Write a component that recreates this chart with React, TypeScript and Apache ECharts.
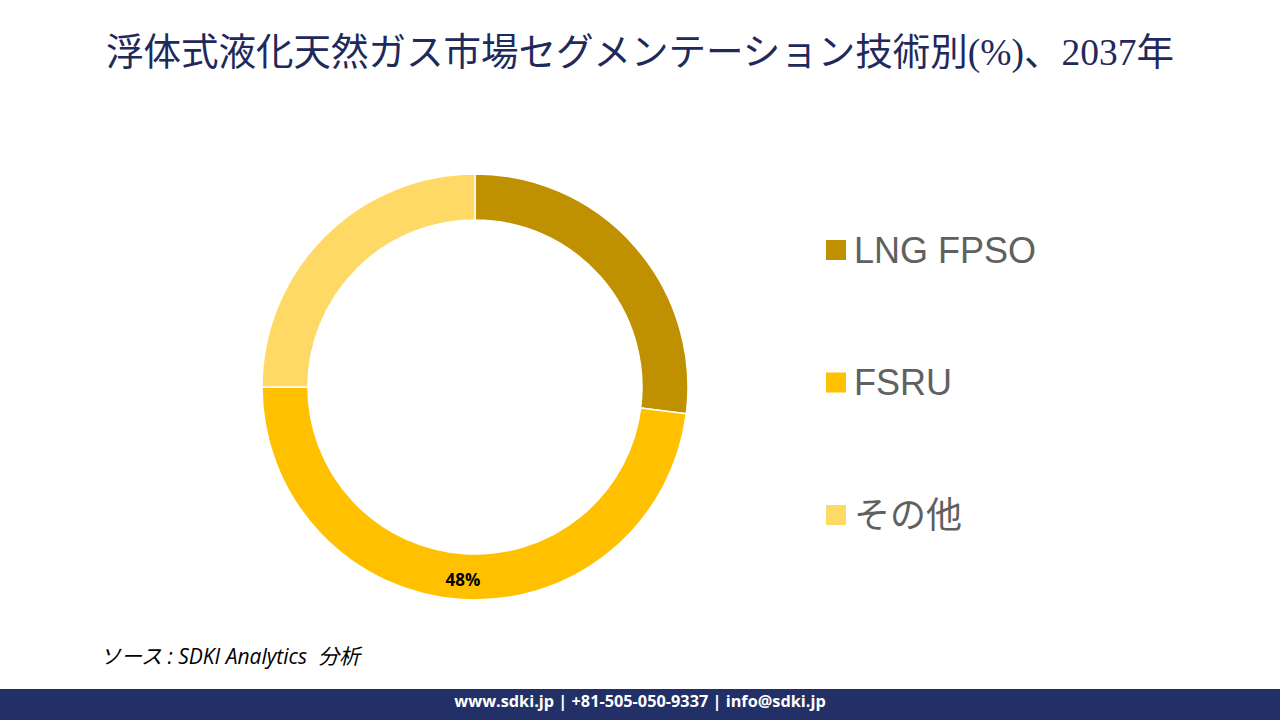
import React, { useEffect, useRef } from "react";
import * as echarts from "echarts";

const titleText = "浮体式液化天然ガス市場セグメンテーション技術別(%)、2037年";
const categories = ["LNG FPSO", "FSRU", "その他"];
const values = [27, 48, 25];
const colors = ["#BF9000", "#FFC000", "#FFD966"];
const labelled = ["FSRU"];
const sourceText = "ソース : SDKI Analytics  分析";
const footerText = "www.sdki.jp | +81-505-050-9337 | info@sdki.jp";

export default function App() {
  const ref = useRef<HTMLDivElement>(null);
  useEffect(() => {
    document.body.style.margin = "0";
    const chart = echarts.init(ref.current!, undefined, { renderer: "svg" });
    const data = categories.map((name, i) => ({
      name,
      value: values[i],
      itemStyle: { color: colors[i] },
      label: { show: labelled.includes(name) },
    }));
    chart.setOption({
      animation: false,
      backgroundColor: "#ffffff",
      title: {
        text: titleText,
        left: "center",
        top: 29,
        textStyle: {
          fontFamily: "'Liberation Serif', 'Noto Sans CJK JP', serif",
          fontSize: 37.5,
          fontWeight: "normal",
          color: "#1F2A5C",
        },
      },
      legend: {
        orient: "vertical",
        left: 824,
        top: 232,
        padding: 0,
        icon: "rect",
        itemWidth: 22,
        itemHeight: 22,
        itemGap: 96.5,
        selectedMode: false,
        data: categories,
        textStyle: {
          fontFamily: "'Liberation Sans', 'Noto Sans CJK JP', sans-serif",
          fontSize: 36,
          lineHeight: 36,
          color: "#606060",
          padding: [0, 0, 0, 2],
        },
      },
      series: [
        {
          type: "pie",
          center: [475, 387],
          radius: [167, 213],
          startAngle: 90,
          clockwise: true,
          avoidLabelOverlap: false,
          labelLine: { show: false },
          itemStyle: { borderColor: "#ffffff", borderWidth: 1.5 },
          label: {
            position: "inside",
            formatter: (p: any) => p.value + "%",
            fontFamily: "'Open Sans', 'Liberation Sans', sans-serif",
            fontWeight: "bold",
            fontSize: 17,
            color: "#000000",
          },
          emphasis: { disabled: true },
          data,
        },
      ],
      graphic: [
        {
          type: "text",
          left: 100,
          top: 645,
          style: {
            text: sourceText,
            font: "italic 21px 'Open Sans', 'Noto Sans CJK JP', sans-serif",
            fill: "#000000",
          },
        },
        {
          type: "rect",
          left: 0,
          top: 689,
          shape: { width: 1280, height: 31 },
          style: { fill: "#233068" },
        },
        {
          type: "text",
          left: "center",
          top: 693,
          style: {
            text: footerText,
            font: "bold 16.3px 'Open Sans', 'Liberation Sans', sans-serif",
            fill: "#ffffff",
          },
        },
      ],
    });
    return () => chart.dispose();
  }, []);
  return (
    <div
      ref={ref}
      style={{ position: "fixed", left: 0, top: 0, width: 1280, height: 720 }}
    />
  );
}
